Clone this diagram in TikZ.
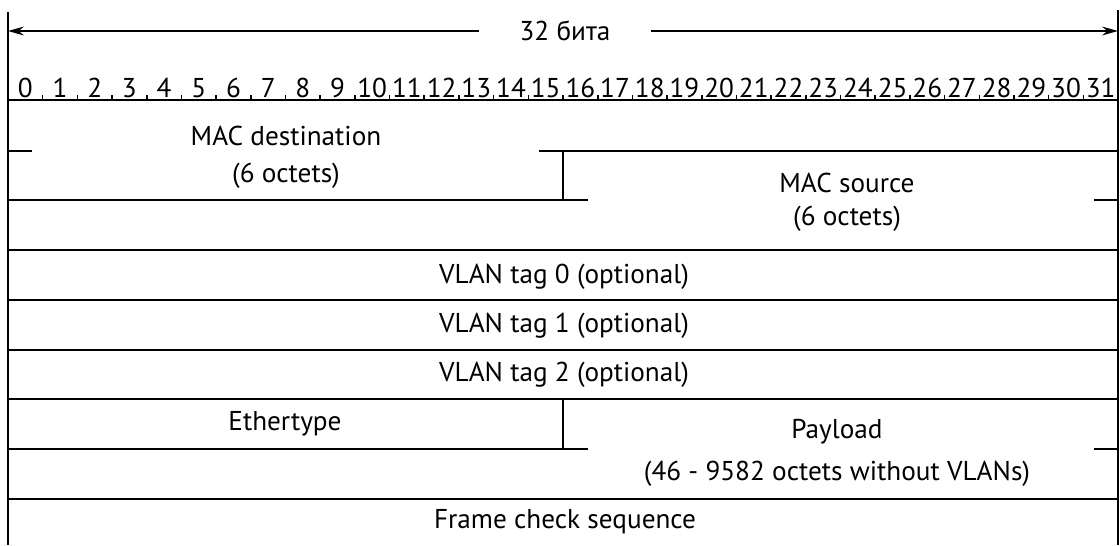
\documentclass[tikz,border=0pt]{standalone}
\usepackage{fontspec}
\setmainfont{PT Sans}
\usepackage{tikz}
\usetikzlibrary{arrows.meta, positioning, calc}
\tikzset{
  fld/.style={align=center,inner sep=0pt,font=\fontsize{15.5}{19}\selectfont},
  bitnum/.style={anchor=base,inner sep=0pt,font=\fontsize{15.5}{18}\selectfont},
  rule/.style={line width=1.1pt},
  tick/.style={line width=0.9pt},
  arr/.style={-{Stealth[length=9pt,width=5pt]},line width=0.8pt}
}

\begin{document}
\begin{tikzpicture}[x=0.02cm,y=-0.02cm]
  \useasboundingbox (0,0) rectangle (1120,545);

  % borders
  \coordinate (ltop) at (8,12);
  \coordinate (lbot) at (8,545);
  \coordinate (rtop) at (1118,10);
  \coordinate (rbot) at (1118,545);
  \draw[rule] (ltop) -- (lbot);
  \draw[rule] (rtop) -- (rbot);

  % word width
  \node[fld, inner xsep=0.8cm] (width) at (565,31) {32 бита};
  \draw[arr] (width.west) -- (width.west -| ltop);
  \draw[arr] (width.east) -- (width.east -| rtop);

  % bit ruler
  \foreach \i in {0,...,31}
    \node[bitnum] (bit\i) at ({8+34.69*(\i+0.5)},97) {\i};
  \draw[rule] (8,100) -- (1118,100);
  \foreach \i in {1,...,31}
    \draw[tick] ({8+34.69*\i},100) -- ++(0,-5);

  % fields
  \node[fld] (macdst) at (286,157) {MAC destination\\[2pt](6 octets)};
  \node[fld] (macsrc) at (847,202) {MAC source\\(6 octets)};
  \node[fld] (vlan0) at (564,277) {VLAN tag 0 (optional)};
  \node[fld] (vlan1) at (564,326) {VLAN tag 1 (optional)};
  \node[fld] (vlan2) at (564,375) {VLAN tag 2 (optional)};
  \node[fld] (ethtype) at (285,424) {Ethertype};
  \node[fld] (payload) at (837,453) {Payload\\[5pt](46 - 9582 octets without VLANs)};
  \node[fld] (fcs) at (565,522) {Frame check sequence};

  % row lines
  \draw[rule] (8,151) -- ++(24,0);
  \draw[rule] (539,151) -- (1118,151);
  \draw[rule] (563,151) -- (563,200);
  \draw[rule] (8,200) -- (588,200);
  \draw[rule] (1094,200) -- (1118,200);
  \foreach \y in {250,300,350,399,499}
    \draw[rule] (8,\y) -- (1118,\y);
  \draw[rule] (563,399) -- (563,449);
  \draw[rule] (8,449) -- (588,449);
  \draw[rule] (1094,449) -- (1118,449);
\end{tikzpicture}
\end{document}
